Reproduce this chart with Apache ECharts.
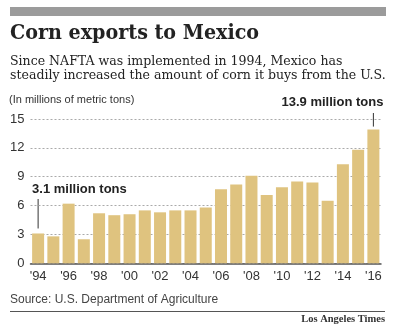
<!DOCTYPE html>
<html><head><meta charset="utf-8">
<script src="https://cdn.jsdelivr.net/npm/echarts@6/dist/echarts.min.js"></script>
<style>html,body{margin:0;padding:0;background:#fff}#c{width:400px;height:330px}</style>
</head><body><div id="c"></div>
<script>
const years = ['1994','1995','1996','1997','1998','1999','2000','2001','2002','2003','2004','2005','2006','2007','2008','2009','2010','2011','2012','2013','2014','2015','2016'];
const exports = [3.1,2.8,6.2,2.5,5.2,5.0,5.1,5.5,5.3,5.5,5.5,5.8,7.7,8.2,9.1,7.1,7.9,8.5,8.4,6.5,10.3,11.8,13.9];
const yTicks = [0,3,6,9,12,15];
const annotations = [{idx:0,text:'3.1 million tons'},{idx:22,text:'13.9 million tons'}];

const chart = echarts.init(document.getElementById('c'), null, {renderer:'canvas'});
const sans = '"Liberation Sans", Arial, sans-serif';
const serif = '"DejaVu Serif", serif';
chart.setOption({
  animation:false,
  grid:{left:30.5,right:19,top:119,bottom:66.7},
  xAxis:{type:'category',data:years,
    axisLine:{lineStyle:{color:'#555',width:1.5}},axisTick:{show:false},
    axisLabel:{interval:0,margin:7,color:'#333',fontFamily:sans,fontSize:13,
      formatter:(v,i)=> (i%2===0 ? "'"+v.slice(2) : '')}},
  yAxis:{type:'value',min:yTicks[0],max:yTicks[yTicks.length-1],interval:yTicks[1]-yTicks[0],
    axisLine:{show:false},axisTick:{show:false},
    axisLabel:{color:'#333',fontFamily:sans,fontSize:13,margin:6},
    splitLine:{lineStyle:{type:[2,2],color:'#aaa',width:1}}},
  series:[{type:'bar',data:exports,barWidth:12,itemStyle:{color:'#dfc37f'}}],
  graphic:[
    {type:'rect',shape:{x:10,y:7,width:376,height:9},style:{fill:'#9b9b9b'}},
    {type:'text',x:10,y:23,scaleX:0.91,style:{text:'Corn exports to Mexico',font:'bold 21px '+serif,fill:'#222'}},
    {type:'text',x:10,y:55,scaleX:0.965,style:{text:'Since NAFTA was implemented in 1994, Mexico has',font:'13px '+serif,fill:'#222'}},
    {type:'text',x:10,y:69.5,scaleX:0.965,style:{text:'steadily increased the amount of corn it buys from the U.S.',font:'13px '+serif,fill:'#222'}},
    {type:'text',left:9,top:94,style:{text:'(In millions of metric tons)',font:'11px '+sans,fill:'#333'}},
    {type:'text',left:10,top:294,style:{text:'Source: U.S. Department of Agriculture',font:'12px '+sans,fill:'#444'}},
    {type:'line',shape:{x1:10,y1:311.5,x2:385,y2:311.5},style:{stroke:'#555',lineWidth:1}},
    {type:'text',right:15,top:314,style:{text:'Los Angeles Times',font:'bold 10.5px "Liberation Serif", serif',fill:'#333'}}
  ]
});
const g = [];
annotations.forEach((a,k)=>{
  const top = chart.convertToPixel({seriesIndex:0},[a.idx, exports[a.idx]]);
  if(k===0){
    g.push({type:'line',shape:{x1:top[0],y1:199,x2:top[0],y2:top[1]-5},style:{stroke:'#333',lineWidth:1}});
    g.push({type:'text',x:top[0]-6,y:183,style:{text:a.text,font:'bold 13px '+sans,fill:'#222'}});
  } else {
    g.push({type:'line',shape:{x1:top[0],y1:113,x2:top[0],y2:top[1]-3},style:{stroke:'#333',lineWidth:1}});
    g.push({type:'text',x:top[0]+10,y:96,style:{text:a.text,font:'bold 13px '+sans,fill:'#222',align:'right'}});
  }
});
chart.setOption({graphic:g.map((e,i)=>Object.assign({id:'ann'+i},e))});
</script></body></html>
